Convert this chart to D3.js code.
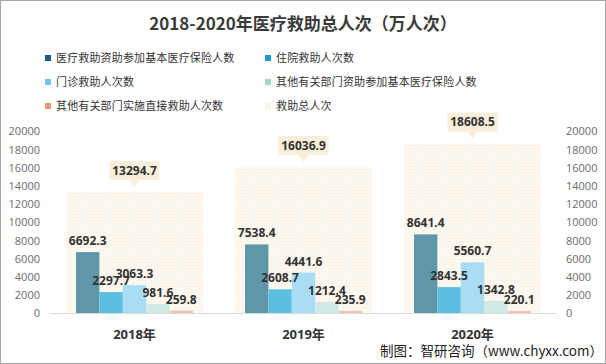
<!DOCTYPE html>
<html><head><meta charset="utf-8">
<script src="https://cdn.jsdelivr.net/npm/d3@7"></script>
<style>
html,body{margin:0;padding:0;background:#fff;}
svg{display:block;}
</style></head>
<body>
<script>
const categories = ["2018年", "2019年", "2020年"];
const seriesNames = ["医疗救助资助参加基本医疗保险人数", "住院救助人次数", "门诊救助人次数", "其他有关部门资助参加基本医疗保险人数", "其他有关部门实施直接救助人次数"];
const s1 = [6692.3, 7538.4, 8641.4];
const s2 = [2297.7, 2608.7, 2843.5];
const s3 = [3063.3, 4441.6, 5560.7];
const s4 = [981.6, 1212.4, 1342.8];
const s5 = [259.8, 235.9, 220.1];
const totalName = "救助总人次";
const totals = [13294.7, 16036.9, 18608.5];
const yTicks = [0, 2000, 4000, 6000, 8000, 10000, 12000, 14000, 16000, 18000, 20000];
const title = "2018-2020年医疗救助总人次（万人次）";
const source = "制图：智研咨询（www.chyxx.com）";

const seriesValues = [s1, s2, s3, s4, s5];
const legendColors = ["#1d5f7b", "#1a9cd2", "#6fc7ec", "#a3d5d2", "#e9957f"];
const barColors = ["#5e97a9", "#5cbfe2", "#a9ddf3", "#d0eae6", "#f3c3b2"];
const totalLegendColor = "#fbf4e6";

const W = 606, H = 364;
const svg = d3.select("body").append("svg").attr("width", W).attr("height", H);
const defs = svg.append("defs");
const pat = defs.append("pattern").attr("id", "dots").attr("width", 3).attr("height", 3).attr("patternUnits", "userSpaceOnUse");
pat.append("rect").attr("width", 3).attr("height", 3).attr("fill", "#fdf8f0");
pat.append("rect").attr("x", 1).attr("y", 1).attr("width", 1).attr("height", 1).attr("fill", "#f5ecdc");

svg.append("rect").attr("x", 0.5).attr("y", 0.5).attr("width", W - 1).attr("height", H - 1)
  .attr("fill", "#fff").attr("stroke", "#a6a6a6");

svg.append("text").attr("x", 303).attr("y", 30).attr("text-anchor", "middle")
  .attr("font-family", "Noto Sans CJK SC").attr("font-weight", "bold").attr("font-size", 17)
  .attr("fill", "#3b3b3b").text(title);

// legend
const legendItems = seriesNames.map((n, i) => ({ name: n, color: legendColors[i] }))
  .concat([{ name: totalName, color: totalLegendColor }]);
const lg = svg.append("g");
legendItems.forEach((d, i) => {
  const col = i % 2, row = Math.floor(i / 2);
  const x = col === 0 ? 45 : 265, y = 58 + row * 24;
  lg.append("rect").attr("x", x).attr("y", y - 3).attr("width", 6).attr("height", 6).attr("fill", d.color);
  lg.append("text").attr("x", x + 11).attr("y", y + 4).text(d.name)
    .attr("font-family", "Noto Sans CJK SC").attr("font-size", 11).attr("letter-spacing", 0.15)
    .attr("fill", "#333");
});

const y = d3.scaleLinear().domain([0, 20000]).range([313, 131]);
const x = d3.scaleBand().domain(categories).range([50, 557]).paddingInner(0).paddingOuter(0);
const inner = d3.scaleBand().domain(d3.range(seriesNames.length)).range([0, 117]);
const totalW = 137;

// axes
const axisL = d3.axisLeft(y).tickValues(yTicks).tickSize(0).tickPadding(0).tickFormat(d3.format("d"));
const gl = svg.append("g").attr("transform", "translate(40,0)").call(axisL);
const axisR = d3.axisRight(y).tickValues(yTicks).tickSize(0).tickPadding(0).tickFormat(d3.format("d"));
const gr = svg.append("g").attr("transform", "translate(566,0)").call(axisR);
[gl, gr].forEach(g => {
  g.select(".domain").remove();
  g.selectAll("text").attr("font-family", "Open Sans").attr("font-size", 11).attr("fill", "#6b6b6b").attr("dy", "0.35em");
});

// total bars
svg.append("g").selectAll("rect").data(totals).join("rect")
  .attr("x", (d, i) => x(categories[i]) + x.bandwidth() / 2 - totalW / 2)
  .attr("width", totalW)
  .attr("y", d => y(d)).attr("height", d => y(0) - y(d))
  .attr("fill", "url(#dots)");

// baseline
svg.append("line").attr("x1", 50).attr("x2", 557).attr("y1", y(0) + 0.5).attr("y2", y(0) + 0.5)
  .attr("stroke", "#d9d9d9");

// series bars
const bars = svg.append("g");
seriesValues.forEach((vals, si) => {
  bars.selectAll(null).data(vals).join("rect")
    .attr("x", (d, i) => x(categories[i]) + x.bandwidth() / 2 - 58.5 + inner(si))
    .attr("width", inner.bandwidth())
    .attr("y", d => y(d)).attr("height", d => y(0) - y(d))
    .attr("fill", barColors[si]);
});
// bar labels
seriesValues.forEach((vals, si) => {
  bars.selectAll(null).data(vals).join("text")
    .attr("x", (d, i) => x(categories[i]) + x.bandwidth() / 2 - 58.5 + inner(si) + inner.bandwidth() / 2)
    .attr("y", d => y(d) - 7)
    .attr("text-anchor", "middle")
    .attr("font-family", "Open Sans").attr("font-weight", "bold").attr("font-size", 12)
    .attr("fill", "#333").text(d => d3.format(".1f")(d));
});

// total labels with callouts
const tl = svg.append("g");
totals.forEach((d, i) => {
  const cx = x(categories[i]) + x.bandwidth() / 2;
  const top = y(d);
  const bw = 50, bh = 19;
  const by = top - 12 - bh;
  tl.append("path").attr("d", `M${cx - 5},${top - 12} L${cx},${top - 5} L${cx + 5},${top - 12} Z`).attr("fill", "#f9eed9");
  tl.append("rect").attr("x", cx - bw / 2).attr("y", by).attr("width", bw).attr("height", bh).attr("fill", "#f9eed9");
  tl.append("text").attr("x", cx).attr("y", by + bh / 2).attr("dy", "0.36em").attr("text-anchor", "middle")
    .attr("font-family", "Open Sans").attr("font-weight", "bold").attr("font-size", 12)
    .attr("fill", "#333").text(d3.format(".1f")(d));
});

// category labels
const axisB = d3.axisBottom(x).tickSize(0).tickPadding(0);
const gb = svg.append("g").attr("transform", "translate(0,334)").call(axisB);
gb.select(".domain").remove();
gb.selectAll("text").attr("dy", "0.35em").attr("font-family", "Open Sans, Noto Sans CJK SC").attr("font-weight", "bold")
  .attr("font-size", 13).attr("fill", "#333");

svg.append("text").attr("x", 603).attr("y", 356).attr("text-anchor", "end")
  .attr("font-family", "Noto Sans CJK SC").attr("font-size", 13.5).attr("fill", "#222").text(source);
</script>
</body></html>
